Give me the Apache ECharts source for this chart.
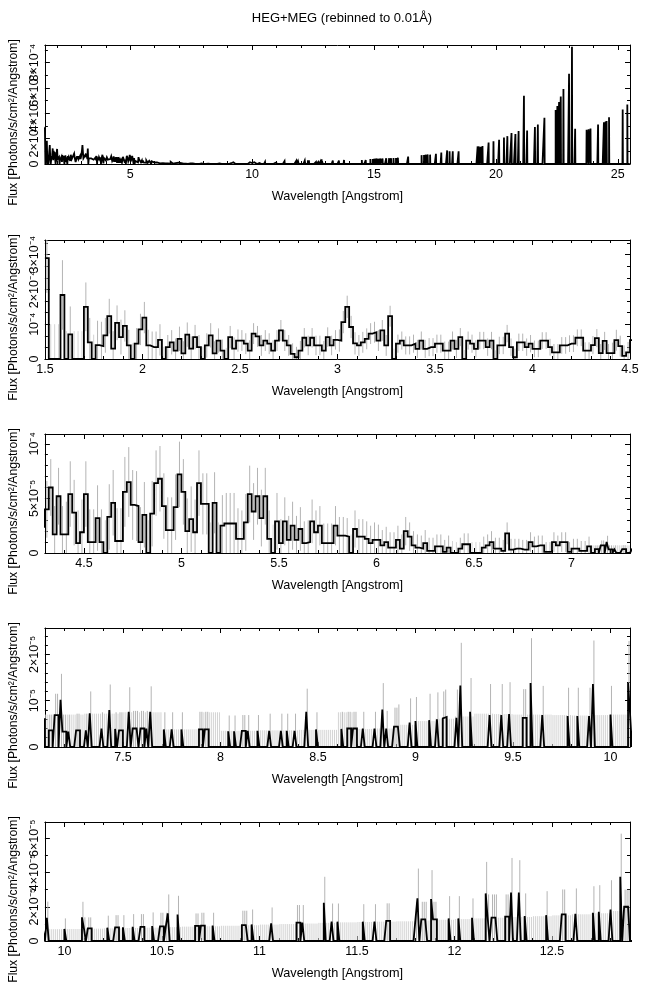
<!DOCTYPE html>
<html><head><meta charset="utf-8">
<script src="https://cdn.jsdelivr.net/npm/echarts@6/dist/echarts.min.js"></script>
<style>html,body{margin:0;padding:0;background:#fff}#c{width:648px;height:991px}</style>
</head><body><div id="c"></div>
<script>
// ---------- DATA ----------
// 1.50 - 7.10 A, 0.02 A bins, flux in units of 1e-5 photons/s/cm2/A
const shortFlux = [
 29,0,0,0,18.4,0,7.1,0,0,0,
 15,4.8,0,4.0,3.7,6.8,12.3,3.0,10.4,6.3,
 9.5,3.9,0,4.4,8.5,11.9,3.9,3.4,3.4,5.5,
 0,3.4,4.8,2.4,5.8,1.6,7.0,3.0,6.3,3.4,
 0,3.9,6.8,1.6,5.3,2.4,0,6.3,3.0,5.3,
 5.3,4.4,2.4,7.3,6.5,3.9,5.3,4.4,2.4,5.3,
 8.2,5.3,3.9,1.5,0.5,2.4,6.1,3.9,6.1,3.9,
 3.9,2.4,6.3,3.9,5.5,5.3,10.6,15.0,9.2,4.5,
 3.9,4.8,5.8,7.3,7.7,5.3,8.2,3.9,12.3,0,
 4.4,5.3,3.9,3.9,4.4,2.9,5.3,2.9,3.4,3.4,
 4.4,4.4,2.4,2.4,5.3,2.9,6.3,0,5.3,4.4,
 2.9,5.3,5.3,3.4,5.3,0,3.9,3.9,7.3,3.4,
 0.5,4.8,4.8,3.4,4.4,2.9,2.9,5.3,5.3,3.4,
 1.9,1.9,3.9,3.9,4.4,4.4,6.1,6.1,2.4,2.4,
 4.0,6.0,1.7,5.2,1.7,1.7,5.4,3.7,0.9,1.9,
 5.4,1.0,1.0,3.2,1.0,0,3.3,4.6,1.1,1.1,
 5.6,6.5,4.4,4.3,1.0,3.5,0,3.6,6.4,6.8,
 4.3,2.1,2.1,4.2,7.2,5.6,2.0,3.1,1.9,6.4,
 4.5,4.5,0,4.6,0,2.5,2.7,2.7,2.7,1.3,
 1.3,2.8,5.4,3.8,5.2,3.2,5.2,1.3,0,2.9,
 0.9,2.9,1.2,2.5,1.2,2.2,0.9,1.0,2.9,1.9,
 2.5,0.9,0.9,0.9,2.5,1.6,1.6,1.5,0,2.2,
 1.5,1.5,1.3,0.9,1.2,1.2,0.7,1.0,0.5,0.5,
 1.2,0.4,2.0,1.5,0.7,0.5,0.4,0.9,0.2,0.2,
 0.6,0.6,0.1,0.5,0,0,0.4,0.8,0.8,0,
 0,0,0.5,0.7,1.0,0.4,0.4,0.2,1.8,0.3,
 0.4,0.4,0.3,0.3,1.0,0.6,0.7,0.7,0.1,0.1,
 1.0,0.7,1.0,1.0,0.1,0.4,0.4,0.2,0.2,0.6
];
// error half-width for the 0.02 A bins, one value per 0.1 A from 1.5 A (units 1e-5)
const shortErr = [
 10,8,7,5,4.5,4.5,3.5,3.5,3.5,3.2,
 3,3,3,2.8,2.8,3.2,3,3,2.6,2.6,
 2.6,2.6,2.5,2.5,2.5,2.4,2.4,2.4,2.6,3.0,
 3.0,3.0,3.2,3.0,3.0,3.0,2.8,2.8,2.6,2.6,
 2.2,2.0,1.8,1.7,1.6,1.4,1.3,1.2,1.1,1.0,
 1.0,1.0,0.9,0.9,0.9,0.9
];
// 7.10 - 12.90 A, 0.01 A bins: non-empty bins (start wavelength), flux and error top (units 1e-6)
const midWave = [
 7.12,7.13,7.15,7.16,7.18,7.19,7.20,7.22,7.26,7.27,7.31,7.33,7.39,7.43,7.46,7.48,7.49,7.53,7.55,7.56,
 7.57,7.59,7.60,7.62,7.64,7.71,7.75,7.80,7.89,7.90,7.92,7.93,8.04,8.07,8.11,8.12,8.14,8.19,8.25,8.31,
 8.34,8.38,8.44,8.49,8.62,8.65,8.66,8.68,8.69,8.73,8.79,8.83,8.85,8.89,8.90,8.91,8.97,9.00,9.07,9.11,
 9.14,9.15,9.21,9.23,9.28,9.38,9.44,9.48,9.55,9.56,9.59,9.65,9.78,9.83,9.89,9.91,10.00,10.09,10.10,10.12,
 10.13,10.22,10.26,10.27,10.30,10.35,10.39,10.40,10.45,10.49,10.50,10.52,10.53,10.58,10.67,10.68,10.70,10.71,10.76,10.91,
 10.92,10.93,10.96,11.06,11.19,11.20,11.22,11.33,11.37,11.40,11.53,11.59,11.65,11.66,11.80,11.81,11.83,11.84,11.85,11.88,
 11.89,11.90,11.97,12.02,12.09,12.16,12.17,12.19,12.20,12.21,12.26,12.27,12.29,12.33,12.36,12.47,12.55,12.56,12.62,12.71,
 12.74,12.80,12.85,12.87,12.88,12.89
];
const midFlux = [
 3.6,3.6,6.9,6.9,10.2,3.3,3.3,3.3,3.6,3.6,3.6,7.3,4.0,8.0,3.9,3.6,3.6,7.6,4.0,4.0,
 4.0,4.0,4.0,4.0,7.6,3.8,3.8,3.8,3.8,3.8,3.8,3.8,3.4,3.4,3.5,3.5,3.5,3.5,3.5,3.5,
 3.5,3.5,7.6,3.8,3.9,4.0,4.0,4.0,4.0,4.0,4.0,8.1,4.0,4.4,4.4,4.7,5.3,5.6,5.8,6.0,
 6.2,6.5,6.3,13.3,7.6,6.9,6.9,7.1,6.3,6.3,13.8,6.9,6.7,6.7,6.7,13.6,7.0,13.8,7.4,7.4,
 7.4,7.8,8.0,8.0,8.0,8.3,8.2,8.2,8.7,8.5,8.5,8.5,16.1,15.5,8.8,8.8,9.0,9.0,9.0,9.3,
 9.3,9.3,9.7,10.3,10.7,10.7,10.7,22.3,11.3,11.3,11.3,11.3,11.7,11.7,12.6,24.9,12.6,12.6,12.6,24.5,
 12.6,12.6,13.2,13.2,13.6,27.8,13.7,13.7,13.7,13.7,14.2,14.2,28.3,28.3,14.6,15.1,15.5,15.5,15.9,16.5,
 17.1,18.4,37.5,20.0,20.0,20.0
];
const midErrTop = [
 7.0,7.0,11.5,11.5,15.8,7.0,7.0,7.0,7.2,7.2,7.2,12.0,7.5,13.5,7.5,7.5,7.5,12.9,7.8,7.8,
 7.8,7.8,7.8,7.8,13.1,7.5,7.5,7.5,7.6,7.6,7.6,7.6,6.8,6.8,6.9,6.9,6.9,6.9,7.2,7.2,
 7.2,7.2,12.6,7.5,7.6,7.6,7.6,7.6,7.6,7.6,7.6,13.8,7.8,8.5,8.5,9.2,10.5,10.8,11.5,11.8,
 12.0,12.4,12.4,22.5,14.9,13.6,13.6,14.0,12.5,12.5,23.5,13.2,12.8,12.8,12.8,23.0,13.2,22.9,13.8,13.8,
 13.8,14.8,15.1,15.1,15.1,15.7,15.7,15.7,16.7,16.5,16.5,16.5,27.2,26.4,16.1,16.1,16.5,16.5,16.5,17.7,
 17.7,17.7,18.4,19.6,21.0,21.0,21.0,37.5,21.9,21.9,21.5,21.5,22.0,22.0,22.9,42.3,22.9,22.9,22.9,41.4,
 22.9,22.9,26.2,26.2,24.9,46.2,27.2,27.2,27.2,27.2,27.2,27.2,48.5,47.2,27.8,29.1,30.1,30.1,30.7,32.0,
 32.6,35.5,62.7,30.0,30.0,30.0
];
// upper limit of empty 0.01 A bins, one value per 0.1 A from 7.1 A (units 1e-6)
const midLimit = [
 7.0,7.0,7.2,7.2,7.5,7.5,3.8,3.8,7.5,3.5,
 3.5,3.6,3.6,3.7,3.7,7.5,3.9,4.0,4.8,5.6,
 6.1,6.6,7.2,7.1,7.0,7.0,6.9,6.8,6.9,7.0,
 7.2,7.4,7.6,7.8,8.1,8.4,8.6,8.9,9.2,9.6,
 9.9,10.2,10.6,10.9,11.1,11.3,11.5,12.0,12.4,12.8,
 13.2,13.6,14.0,14.5,15.0,15.6,16.2,17.5
];
// 12.90 - 25.50 A, 0.01 A bins: emission lines (start wavelength, flux in units of 1e-6)
const longWave = [
 13.31,13.56,13.77,14.50,14.66,14.85,14.95,15.02,15.10,15.18,15.26,15.35,15.50,15.62,15.70,15.80,15.90,15.98,16.40,16.95,
 17.05,17.12,17.20,17.30,17.54,17.76,18.00,18.10,18.23,18.47,19.25,19.30,19.38,19.45,19.70,19.90,20.13,20.33,20.47,20.64,
 20.80,20.93,21.15,21.28,21.60,21.72,21.99,22.45,22.52,22.59,22.66,22.77,23.00,23.12,23.25,23.72,23.80,23.88,24.19,24.43,
 24.50,24.54,24.64,25.20,25.39
];
const longFlux = [
 27,27,32,32,32,40,40,42,43,42,43,44,45,46,45,48,48,50,59,70,
 72,73,75,74,80,90,107,100,100,100,139,139,136,142,170,180,192,210,220,245,
 237,260,540,264,293,312,365,426,458,490,534,592,712,926,278,270,275,280,312,330,
 335,340,370,430,470
];
// axis ranges of the five panels
const xRanges = [[1.5,25.5],[1.5,4.5],[4.3,7.3],[7.1,10.1],[9.9,12.9]];
const yMaxes = [9.4e-4, 3.42e-4, 1.09e-4, 2.57e-5, 6.95e-5];
const yIntervals = [2e-4, 1e-4, 5e-5, 1e-5, 2e-5];

// ---------- BUILD BINS ----------
const sparse = new Map();
midWave.forEach((w,i)=>sparse.set(Math.round(w*100), {f: midFlux[i]*1e-6, e: midErrTop[i]*1e-6}));
longWave.forEach((w,i)=>sparse.set(Math.round(w*100), {f: longFlux[i]*1e-6, e: null}));
const bins = [], errs = [];   // bins: [left, right, flux]; errs: [centre, low, high, hasCounts]
shortFlux.forEach((v,i)=>{
  const f = v*1e-5;
  bins.push([(150 + 2*i)/100, (152 + 2*i)/100, f]);
  const e = shortErr[Math.floor(i/5)]*1e-5;
  errs.push([(151 + 2*i)/100, Math.max(0, f-e), f+e, f > 0 ? 1 : 0]);
});
for (let k = 710; k < 2550; k++) {
  const s = sparse.get(k);
  const f = s ? s.f : 0;
  bins.push([k/100, (k+1)/100, f]);
  if (k < 1290) {
    const lim = midLimit[Math.floor((k-710)/10)]*1e-6;
    errs.push([(k+0.5)/100, 0, s ? s.e : lim, s ? 1 : 0]);
  }
}
// histogram outline: both edges of every bin at its flux
function histPoints(xmin, xmax){
  const pts = [];
  bins.forEach(b => {
    if (b[1] < xmin - 0.02 || b[0] > xmax + 0.02) return;
    pts.push([b[0], b[2]], [b[1], b[2]]);
  });
  return pts;
}

// ---------- CHART ----------
const FONT = 'Liberation Sans, Arial, sans-serif';
const tops = [45, 240, 434, 628, 822];
const SUP = {'-':'\u207B','0':'\u2070','1':'\u00B9','2':'\u00B2','3':'\u00B3','4':'\u2074','5':'\u2075','6':'\u2076','7':'\u2077','8':'\u2078','9':'\u2079'};
function sciLabel(v){
  if (Math.abs(v) < 1e-12) return '0';
  const ex = Math.floor(Math.log10(v) + 1e-9);
  const m = Math.round(v / Math.pow(10, ex) * 10) / 10;
  const es = String(ex).split('').map(c=>SUP[c]).join('');
  return (m === 1 ? '' : m + '\u00D7') + '10' + es;
}
const yMinorSplit = [2, 3, 5, 5, 2];
const grids = [], xAxes = [], yAxes = [], series = [];
const tickCommon = {show:true, inside:true, length:5, lineStyle:{color:'#000', width:1}};
const lineCommon = {show:true, onZero:false, lineStyle:{color:'#000', width:1}};
function renderErr(params, api){
  const x = api.value(0);
  const lo = api.coord([x, api.value(1)]);
  const hi = api.coord([x, api.value(2)]);
  const cs = params.coordSys;
  return {type:'line', silent:true,
    shape:{x1:lo[0], y1:lo[1], x2:hi[0], y2:Math.max(hi[1], cs.y)},
    style:{stroke: api.value(3) ? '#b4b4b4' : '#d4d4d4', lineWidth:1}};
}
for (let p = 0; p < 5; p++) {
  const [xmin, xmax] = xRanges[p];
  grids.push({left:44, right:18, top:tops[p], height:119});
  const edge = p !== 1;
  xAxes.push({type:'value', gridIndex:p, position:'bottom', min:xmin, max:xmax, splitNumber:5,
    axisLine:lineCommon, axisTick:tickCommon,
    minorTick:{show:true, splitNumber:5, length:3, lineStyle:{color:'#000'}},
    splitLine:{show:false},
    axisLabel:{show:true, margin:4, fontSize:12.5, color:'#000', fontFamily:FONT,
      showMinLabel: edge ? false : true, showMaxLabel: edge ? false : true},
    name:'Wavelength [Angstrom]', nameLocation:'middle', nameGap:26,
    nameTextStyle:{fontSize:12.7, color:'#000', fontFamily:FONT}});
  xAxes.push({type:'value', gridIndex:p, position:'top', min:xmin, max:xmax, splitNumber:5,
    axisLine:lineCommon, axisTick:tickCommon,
    minorTick:{show:true, splitNumber:5, length:3, lineStyle:{color:'#000'}},
    splitLine:{show:false}, axisLabel:{show:false}});
  yAxes.push({type:'value', gridIndex:p, position:'left', min:0, max:yMaxes[p], interval:yIntervals[p],
    axisLine:lineCommon, axisTick:tickCommon,
    minorTick:{show:true, splitNumber:yMinorSplit[p], length:3, lineStyle:{color:'#000'}},
    splitLine:{show:false},
    axisLabel:{show:true, rotate:90, margin:4, fontSize:12.5, color:'#000', fontFamily:FONT,
      showMaxLabel:false, formatter:sciLabel},
    name:'Flux [Photons/s/cm\u00B2/Angstrom]', nameLocation:'middle', nameRotate:90, nameGap:24,
    nameTextStyle:{fontSize:12.2, color:'#000', fontFamily:FONT, padding:[0,36,0,0]}});
  yAxes.push({type:'value', gridIndex:p, position:'right', min:0, max:yMaxes[p], interval:yIntervals[p],
    axisLine:lineCommon, axisTick:tickCommon,
    minorTick:{show:true, splitNumber:yMinorSplit[p], length:3, lineStyle:{color:'#000'}},
    splitLine:{show:false}, axisLabel:{show:false}});
  if (p > 0) {
    series.push({type:'custom', xAxisIndex:2*p, yAxisIndex:2*p, clip:true, silent:true, z:1,
      animation:false, renderItem:renderErr, encode:{x:0, y:[1,2]},
      data: errs.filter(d => d[0] >= xmin && d[0] <= xmax)});
  }
  series.push({type:'line', xAxisIndex:2*p, yAxisIndex:2*p, data:histPoints(xmin, xmax),
    symbol:'none', showSymbol:false, clip:true, silent:true, z:2, animation:false,
    lineStyle:{color:'#000', width:1.8, join:'miter', miterLimit:4}});
}
const chart = echarts.init(document.getElementById('c'), null, {renderer:'canvas'});
chart.setOption({
  animation:false,
  backgroundColor:'#fff',
  title:{text:'HEG+MEG (rebinned to 0.01\u00C5)', left:337, top:7, textAlign:'center',
    textStyle:{fontSize:13, fontWeight:'normal', color:'#000', fontFamily:FONT}},
  grid:grids, xAxis:xAxes, yAxis:yAxes, series:series
});
</script></body></html>
